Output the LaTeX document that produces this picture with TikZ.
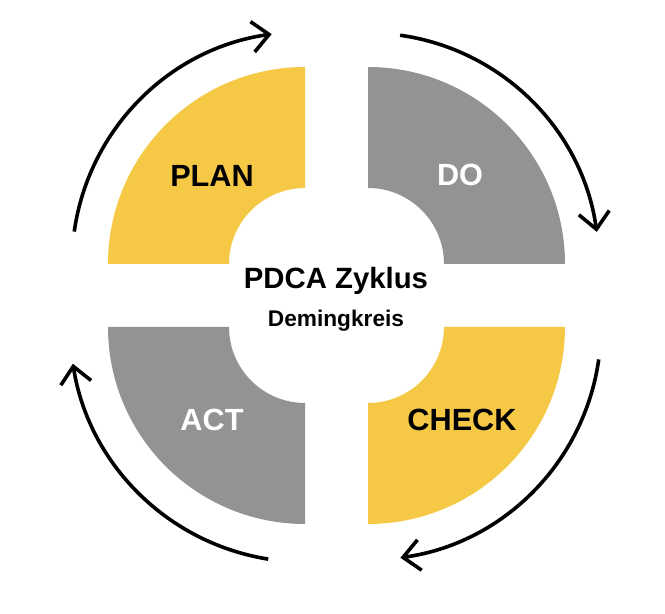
\documentclass[tikz,border=0pt]{standalone}
\usepackage{fontspec}
\setmainfont{Liberation Sans}
\usetikzlibrary{arrows.meta}
\definecolor{pdcayellow}{HTML}{F5C945}
\definecolor{pdcagray}{HTML}{939393}
\begin{document}
\begin{tikzpicture}[x=0.75pt,y=0.75pt,
  quadtext/.style={anchor=base,inner sep=0pt,font=\fontsize{23}{23}\selectfont\bfseries},
  cyclearrow/.style={line width=2.7pt,-{Straight Barb[length=12.5pt,width=23pt,line width=2.7pt]}}]
\useasboundingbox (0,0) rectangle (665,614);
% corners of the quadrants
\coordinate (c1) at (305,350);
\coordinate (c2) at (368,350);
\coordinate (c3) at (368,287);
\coordinate (c4) at (305,287);
% PLAN
\fill[pdcayellow] ([shift={(c1)}]180:197) arc[start angle=180,end angle=90,radius=197]
  -- ([shift={(c1)}]90:76) arc[start angle=90,end angle=180,radius=76] -- cycle;
% DO
\fill[pdcagray] ([shift={(c2)}]90:197) arc[start angle=90,end angle=0,radius=197]
  -- ([shift={(c2)}]0:76) arc[start angle=0,end angle=90,radius=76] -- cycle;
% CHECK
\fill[pdcayellow] ([shift={(c3)}]0:197) arc[start angle=0,end angle=-90,radius=197]
  -- ([shift={(c3)}]-90:76) arc[start angle=-90,end angle=0,radius=76] -- cycle;
% ACT
\fill[pdcagray] ([shift={(c4)}]270:197) arc[start angle=270,end angle=180,radius=197]
  -- ([shift={(c4)}]180:76) arc[start angle=180,end angle=270,radius=76] -- cycle;
% labels
\node[quadtext,text=black] (plan) at (212,427) {PLAN};
\node[quadtext,text=white] (do) at (460,428) {DO};
\node[quadtext,text=white] (act) at (212,183) {ACT};
\node[quadtext,text=black] (check) at (462,183) {CHECK};
\node[anchor=base,inner sep=0pt,font=\fontsize{22}{22}\selectfont\bfseries] (title) at (336,325) {PDCA Zyklus};
\node[anchor=base,inner sep=0pt,font=\fontsize{17}{17}\selectfont\bfseries] (sub) at (336,287) {Demingkreis};
% arrows
\coordinate (a1s) at ([shift={(c1)}]172:233);
\coordinate (a2s) at ([shift={(c2)}]82:231);
\coordinate (a3s) at ([shift={(c3)}]-8:233);
\coordinate (a4s) at ([shift={(c4)}]261:235);
\draw[cyclearrow] (a1s) arc[start angle=172,end angle=98,radius=232];
\draw[cyclearrow] (a2s) arc[start angle=82,end angle=8,radius=231];
\draw[cyclearrow] (a3s) arc[start angle=-8,end angle=-82,radius=233];
\draw[cyclearrow] (a4s) arc[start angle=261,end angle=189,radius=235];
\end{tikzpicture}
\end{document}
